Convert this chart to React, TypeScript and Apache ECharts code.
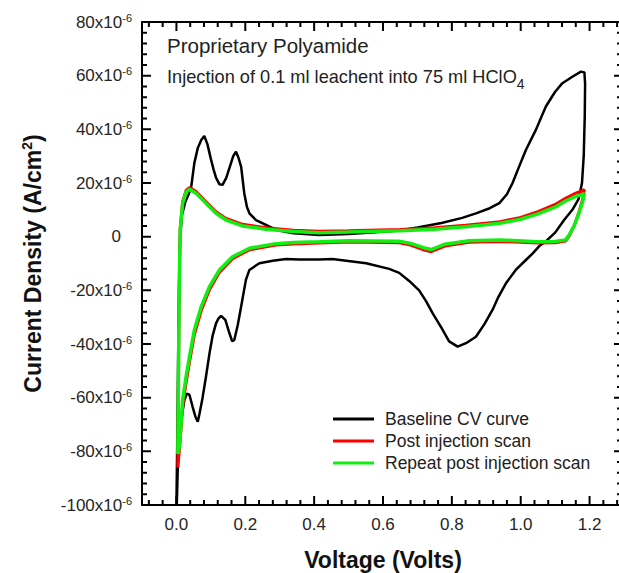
import React, { useEffect, useRef } from 'react';
import * as echarts from 'echarts';

const FONT = "'Liberation Sans', Arial, Helvetica, sans-serif";

const seriesNames = ['Baseline CV curve', 'Post injection scan', 'Repeat post injection scan'];

// Voltage (V), current density (x10^-6 A/cm^2)
const baseline: number[][] = [
  [0.0, -100], [0.003, -70], [0.006, -32], [0.01, -2], [0.016, 8], [0.026, 13], [0.036, 16],
  [0.043, 18.6], [0.052, 27.4], [0.062, 33], [0.072, 36], [0.081, 37.5], [0.09, 34.5], [0.1, 29],
  [0.108, 25], [0.115, 22], [0.125, 19.5], [0.134, 19.3], [0.145, 22], [0.155, 26], [0.165, 30],
  [0.173, 31.7], [0.18, 29.5], [0.188, 26], [0.197, 16.2], [0.205, 11], [0.212, 8.7], [0.231, 6.2],
  [0.26, 4.4], [0.29, 2.5], [0.34, 1.3], [0.415, 0.6], [0.5, 1], [0.6, 1.8], [0.648, 2.3],
  [0.7, 3.4], [0.77, 5.1], [0.83, 7], [0.87, 8.7], [0.91, 10.6], [0.938, 12.5], [0.96, 15.8],
  [0.976, 19.9], [0.995, 26], [1.015, 32.3], [1.044, 39.8], [1.073, 48.5], [1.1, 54], [1.121, 57.2],
  [1.15, 59.6], [1.175, 61.5], [1.185, 61.2],
  [1.187, 57], [1.186, 45], [1.183, 30], [1.178, 20], [1.168, 14], [1.15, 10], [1.126, 6.2],
  [1.1, 1.5], [1.075, -1.5], [1.054, -3.5], [1.035, -6.2], [1.015, -8.7], [0.985, -12.5],
  [0.957, -17.4], [0.935, -22.5], [0.918, -27.3], [0.895, -32.5], [0.87, -37.3], [0.841, -39.7],
  [0.817, -41], [0.792, -39], [0.77, -34], [0.744, -28.5], [0.725, -24], [0.705, -20], [0.676, -16.5],
  [0.647, -13.5], [0.618, -12], [0.551, -9.9], [0.453, -8.3], [0.415, -8.5], [0.357, -8.5],
  [0.318, -8.3], [0.28, -9], [0.241, -9.9], [0.212, -12.4], [0.202, -16], [0.195, -21], [0.188, -26],
  [0.178, -33], [0.168, -38.5], [0.162, -39], [0.154, -36], [0.142, -31], [0.13, -29.5], [0.122, -30.5],
  [0.115, -32.3], [0.105, -37], [0.096, -43.5], [0.086, -52], [0.076, -60], [0.067, -66], [0.062, -69],
  [0.055, -67], [0.047, -63.4], [0.038, -59], [0.03, -58.5], [0.023, -61], [0.014, -68.3], [0.008, -77],
  [0.004, -86], [0.001, -100],
];

const postInjection: number[][] = [
  [0.004, -86], [0.006, -52], [0.008, -20], [0.011, 3], [0.018, 13], [0.028, 17.2], [0.038, 18.3],
  [0.057, 16.8], [0.086, 13], [0.115, 9.3], [0.144, 6.8], [0.192, 4.6], [0.26, 3.3], [0.34, 2.4],
  [0.415, 2], [0.5, 2.2], [0.65, 2.7], [0.75, 3.3], [0.84, 4.3], [0.94, 5.6], [1.0, 7.2], [1.05, 9.3],
  [1.1, 12], [1.13, 14.3], [1.16, 16.2], [1.185, 17.5],
  [1.18, 14], [1.17, 9.5], [1.155, 4], [1.14, 0], [1.13, -1.6], [1.1, -2.3], [1.05, -2.4], [0.94, -1.8],
  [0.85, -2.1], [0.78, -3.5], [0.74, -5.6], [0.72, -5], [0.68, -3.1], [0.647, -2.3], [0.5, -2],
  [0.415, -2.4], [0.34, -2.7], [0.289, -3.1], [0.212, -4.9], [0.163, -8.2], [0.125, -13.3],
  [0.096, -19.8], [0.072, -27.6], [0.052, -36.6], [0.038, -46.7], [0.028, -54.5], [0.018, -63.5],
  [0.009, -79], [0.004, -86],
];

const repeatPostInjection: number[][] = [
  [0.004, -81], [0.006, -50], [0.008, -20], [0.011, 2.5], [0.018, 12.4], [0.028, 16.5], [0.038, 17.7],
  [0.057, 16.2], [0.086, 12.4], [0.115, 8.7], [0.144, 6.2], [0.192, 4], [0.26, 2.8], [0.34, 1.9],
  [0.415, 1.5], [0.5, 1.7], [0.65, 2.2], [0.75, 2.8], [0.84, 3.7], [0.94, 5], [1.0, 6.5], [1.05, 8.5],
  [1.1, 11], [1.13, 13.3], [1.16, 15], [1.185, 16],
  [1.18, 13], [1.17, 9], [1.155, 4], [1.14, 0.5], [1.13, -1.2], [1.1, -1.8], [1.05, -1.9], [0.94, -1.2],
  [0.85, -1.5], [0.78, -2.8], [0.74, -4.8], [0.72, -4.2], [0.68, -2.5], [0.647, -1.7], [0.5, -1.5],
  [0.415, -1.9], [0.34, -2.2], [0.289, -2.6], [0.212, -4.3], [0.163, -7.5], [0.125, -12.4],
  [0.096, -18.6], [0.072, -26.1], [0.052, -34.8], [0.038, -44.7], [0.028, -52.2], [0.018, -60.9],
  [0.009, -78], [0.004, -81],
];

const xMajorTicks = [0, 0.2, 0.4, 0.6, 0.8, 1.0, 1.2];
const xMinorTicks = [
  -0.08, -0.04, 0.04, 0.08, 0.12, 0.16, 0.24, 0.28, 0.32, 0.36, 0.44, 0.48, 0.52, 0.56,
  0.64, 0.68, 0.72, 0.76, 0.84, 0.88, 0.92, 0.96, 1.04, 1.08, 1.12, 1.16, 1.24, 1.28,
];
const yMajorTicks = [-100, -80, -60, -40, -20, 0, 20, 40, 60, 80];
const yMinorTicks = [
  -96, -92, -88, -84, -76, -72, -68, -64, -56, -52, -48, -44, -36, -32, -28, -24, -16, -12, -8, -4,
  4, 8, 12, 16, 24, 28, 32, 36, 44, 48, 52, 56, 64, 68, 72, 76,
];
const X_MIN = -0.1;
const X_MAX = 1.3;
const Y_MIN = -100;
const Y_MAX = 80;
const Y_STEP = 20;

const CHART_W = 626;
const CHART_H = 573;
const GRID = { left: 142, top: 22, right: 2, bottom: 68 };

const LABEL_COLOR = '#262626';

// Tick marks drawn as a broken polyline through the axes' own scales.
function buildTickPath(): (number | string)[][] {
  const pxX = (X_MAX - X_MIN) / (CHART_W - GRID.left - GRID.right);
  const pxY = (Y_MAX - Y_MIN) / (CHART_H - GRID.top - GRID.bottom);
  const out: (number | string)[][] = [];
  const gap = ['-', '-'];
  const addX = (v: number, len: number) => {
    out.push([v, Y_MIN], [v, Y_MIN + len * pxY], gap);
    out.push([v, Y_MAX], [v, Y_MAX - len * pxY], gap);
  };
  const addY = (v: number, lenL: number, lenR: number) => {
    out.push([X_MIN, v], [X_MIN + lenL * pxX, v], gap);
    out.push([X_MAX, v], [X_MAX - lenR * pxX, v], gap);
  };
  xMajorTicks.forEach((v) => addX(v, 9));
  xMinorTicks.forEach((v) => addX(v, 5));
  yMajorTicks.forEach((v) => addY(v, 9, 10));
  yMinorTicks.forEach((v) => addY(v, 5, 7));
  return out;
}

export default function App() {
  const ref = useRef<HTMLDivElement>(null);

  useEffect(() => {
    if (!ref.current) return;
    const chart = echarts.init(ref.current, undefined, { renderer: 'svg' });

    const option: any = {
      animation: false,
      textStyle: { fontFamily: FONT },
      grid: { ...GRID, containLabel: false, outerBoundsMode: 'none' },
      title: [
        {
          text: 'Proprietary Polyamide',
          left: 167,
          top: 35,
          padding: 0,
          textStyle: { fontSize: 20.5, fontWeight: 'normal', color: '#222', fontFamily: FONT },
        },
        {
          text: '{m|Injection of 0.1 ml leachent into 75 ml HClO}{b|4}',
          left: 167,
          top: 68,
          padding: 0,
          textStyle: {
            fontWeight: 'normal',
            color: '#222',
            fontFamily: FONT,
            rich: {
              m: { fontSize: 18.2, lineHeight: 18, verticalAlign: 'top', color: '#222', fontFamily: FONT },
              b: { fontSize: 14, lineHeight: 22.5, verticalAlign: 'bottom', color: '#222', fontFamily: FONT },
            },
          },
        },
      ],
      xAxis: [
        {
          type: 'value',
          position: 'bottom',
          min: X_MIN,
          max: X_MAX,
          axisLine: { show: true, onZero: false, lineStyle: { color: '#000', width: 2 } },
          axisTick: { show: false },
          splitLine: { show: false },
          axisLabel: {
            show: true,
            customValues: xMajorTicks,
            formatter: (v: number) => v.toFixed(1),
            fontSize: 17,
            color: LABEL_COLOR,
            fontFamily: FONT,
            margin: 11,
          },
          name: 'Voltage (Volts)',
          nameLocation: 'middle',
          nameGap: 43,
          nameTextStyle: { fontSize: 23, fontWeight: 'bold', color: '#111', fontFamily: FONT },
        },
        {
          type: 'value',
          position: 'top',
          min: X_MIN,
          max: X_MAX,
          axisLine: { show: true, onZero: false, lineStyle: { color: '#000', width: 2 } },
          axisTick: { show: false },
          axisLabel: { show: false },
          splitLine: { show: false },
        },
      ],
      yAxis: [
        {
          type: 'value',
          position: 'left',
          min: Y_MIN,
          max: Y_MAX,
          interval: Y_STEP,
          axisLine: { show: true, onZero: false, lineStyle: { color: '#000', width: 2 } },
          axisTick: { show: false },
          minorTick: { show: false },
          splitLine: { show: false },
          axisLabel: {
            margin: 10,
            formatter: (v: number) => (v === 0 ? '{z|0}' : `{n|${v}x10}{s|-6}`),
            rich: {
              n: { fontSize: 17, lineHeight: 20, color: LABEL_COLOR, fontFamily: FONT },
              s: { fontSize: 11, lineHeight: 12, verticalAlign: 'top', color: LABEL_COLOR, fontFamily: FONT },
              z: { fontSize: 17, lineHeight: 20, color: LABEL_COLOR, fontFamily: FONT, padding: [0, 11, 0, 0] },
            },
          },
          name: '{a|Current Density (A/cm}{s|2}{a|)}',
          nameLocation: 'middle',
          nameGap: 96,
          nameRotate: 90,
          nameTextStyle: {
            rich: {
              a: { fontSize: 23, fontWeight: 'bold', lineHeight: 26, color: '#111', fontFamily: FONT },
              s: { fontSize: 14, fontWeight: 'bold', lineHeight: 14, verticalAlign: 'top', color: '#111', fontFamily: FONT },
            },
          },
        },
        {
          type: 'value',
          position: 'right',
          min: Y_MIN,
          max: Y_MAX,
          interval: Y_STEP,
          axisLine: { show: true, onZero: false, lineStyle: { color: '#000', width: 2 } },
          axisTick: { show: false },
          splitLine: { show: false },
          axisLabel: { show: false },
        },
      ],
      legend: {
        orient: 'vertical',
        left: 333,
        top: 410,
        padding: 0,
        itemGap: 4,
        itemWidth: 41,
        itemHeight: 3,
        icon: 'rect',
        data: seriesNames,
        textStyle: { fontSize: 17.5, color: '#222', lineHeight: 18, fontFamily: FONT, padding: [0, 0, 0, 6] },
      },
      series: [
        {
          id: 'ticks',
          type: 'line',
          data: buildTickPath(),
          symbol: 'none',
          silent: true,
          clip: false,
          connectNulls: false,
          lineStyle: { color: '#000', width: 2, cap: 'butt' },
          itemStyle: { color: '#000' },
          z: 3,
        },
        {
          name: seriesNames[0],
          type: 'line',
          data: baseline,
          symbol: 'none',
          lineStyle: { color: '#000', width: 2.5 },
          itemStyle: { color: '#000' },
        },
        {
          name: seriesNames[1],
          type: 'line',
          data: postInjection,
          symbol: 'none',
          lineStyle: { color: '#ff0000', width: 3 },
          itemStyle: { color: '#ff0000' },
        },
        {
          name: seriesNames[2],
          type: 'line',
          data: repeatPostInjection,
          symbol: 'none',
          lineStyle: { color: '#11ee11', width: 3.5 },
          itemStyle: { color: '#11ee11' },
        },
      ],
    };

    chart.setOption(option);
    return () => chart.dispose();
  }, []);

  return (
    <div style={{ position: 'fixed', left: 0, top: 0, width: 619, height: 573, overflow: 'hidden', background: '#fff' }}>
      <div ref={ref} style={{ width: CHART_W, height: CHART_H }} />
    </div>
  );
}
